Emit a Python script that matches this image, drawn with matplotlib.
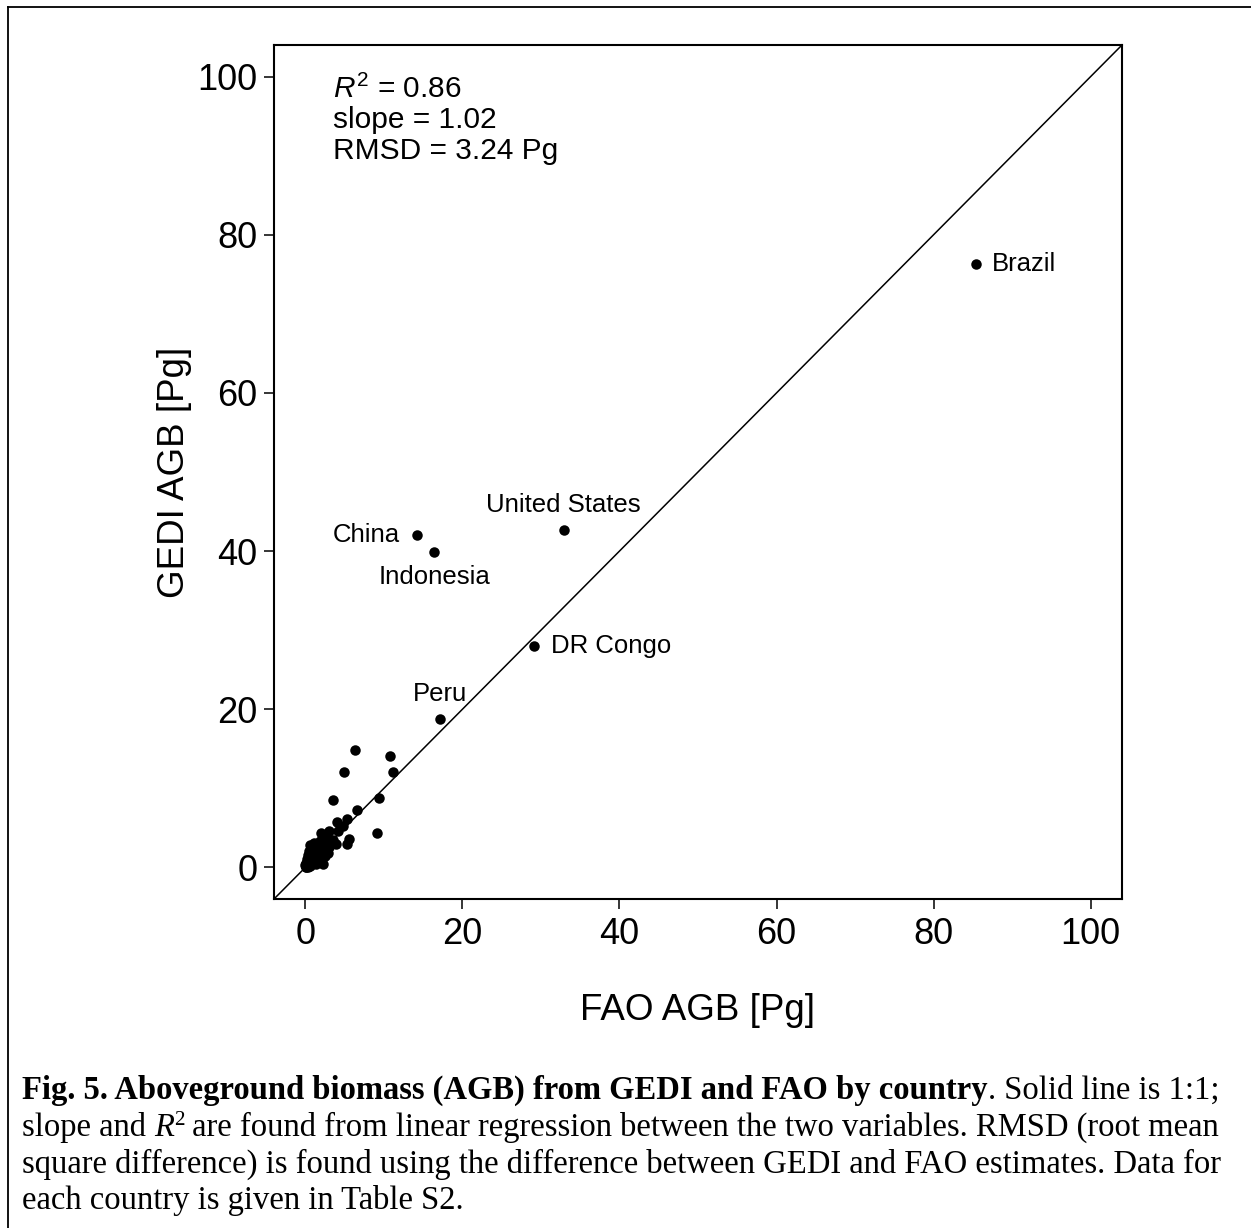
import numpy as np
import matplotlib
matplotlib.use("Agg")
import matplotlib.pyplot as plt
from matplotlib.lines import Line2D

plt.rcParams['font.family'] = ['Liberation Sans', 'DejaVu Sans']
plt.rcParams['mathtext.fontset'] = 'custom'
plt.rcParams['mathtext.rm'] = 'Liberation Sans'
plt.rcParams['mathtext.it'] = 'Liberation Sans:italic'

# 라벨 붙은 국가 (FAO, GEDI)
countries = ["Brazil", "United States", "China", "Indonesia", "DR Congo", "Peru"]
fao_named = [85.35, 32.9, 14.18, 16.43, 29.17, 17.16]
gedi_named = [76.3, 42.7, 41.97, 39.86, 27.94, 18.8]

# 나머지 국가들
fao_other = [0.1, 0.2, 0.3, 0.1, 0.4, 0.2, 0.5, 0.3, 0.6, 0.8, 0.7, 0.4, 0.9, 1.0, 1.2,
             1.1, 1.4, 1.5, 1.3, 1.8, 1.6, 2.0, 2.1, 2.3, 2.2, 2.5, 2.6, 2.85, 3.06, 3.0,
             3.5, 3.9, 4.04, 4.2, 5.31, 4.8, 5.5, 5.3, 6.62, 3.48, 9.43, 9.08, 4.93, 6.28,
             10.8, 11.2, 0.05, 0.0, 1.9, 0.6, 1.7, 2.7]
gedi_other = [0.1, 0.3, 0.1, 0.6, 0.5, 1.0, 1.2, 1.6, 0.2, 0.6, 1.0, 2.1, 1.5, 2.4, 0.9,
              3.1, 1.7, 2.6, 0.4, 3.3, 1.2, 4.4, 2.0, 2.9, 0.4, 1.5, 3.6, 1.86, 4.59, 2.6,
              3.4, 2.9, 5.73, 4.6, 6.15, 5.2, 3.6, 2.9, 7.29, 8.56, 8.72, 4.39, 12.1, 14.9,
              14.07, 12.1, 0.0, 0.3, 0.7, 2.8, 2.2, 4.0]

# 라벨 위치 (점 기준 오프셋, 포인트 단위)
label_offsets = {
    "Brazil": (12, 0, 'left', 'center'),
    "United States": (0, 18, 'center', 'center'),
    "China": (-12, 0, 'right', 'center'),
    "Indonesia": (0, -18, 'center', 'center'),
    "DR Congo": (12, 0, 'left', 'center'),
    "Peru": (0, 18, 'center', 'center'),
}

W, H = 1251, 1228
fig = plt.figure(figsize=(W / 100, H / 100), dpi=100)
ax = fig.add_axes([274 / W, 1 - 899 / H, (1122 - 274) / W, (899 - 45) / H])

ax.set_xlim(-4, 104)
ax.set_ylim(-4, 104)

# 1:1 선
ax.plot([-4, 104], [-4, 104], color='black', lw=1.1, zorder=1)

ax.scatter(fao_other, gedi_other, s=57, color='black', zorder=3, linewidths=0)
ax.scatter(fao_named, gedi_named, s=57, color='black', zorder=3, linewidths=0)

for name, xv, yv in zip(countries, fao_named, gedi_named):
    dx, dy, ha, va = label_offsets[name]
    ax.annotate(name, (xv, yv), xytext=(dx, dy), textcoords='offset points',
                ha=ha, va=va, fontsize=18.5)

ax.set_xticks([0, 20, 40, 60, 80, 100])
ax.set_yticks([0, 20, 40, 60, 80, 100])
ax.tick_params(labelsize=26, length=7, width=1.1, direction='out')
ax.tick_params(axis='x', pad=6)
ax.tick_params(axis='y', pad=5)
for sp in ax.spines.values():
    sp.set_linewidth(1.5)

# 통계값
stats = [r"$\mathit{R}^2$ = 0.86", "slope = 1.02", "RMSD = 3.24 Pg"]
for s, yb in zip(stats, [98, 128, 159]):
    fig.text(333 / W, 1 - yb / H, s, fontsize=21.5, ha='left', va='baseline')

fig.text(698 / W, 1 - 1010 / H, "FAO AGB [Pg]", fontsize=26.5, ha='center', va='center')
fig.text(175 / W, 1 - 472 / H, "GEDI AGB [Pg]", fontsize=26.5, ha='center', va='center',
         rotation=90)

# 바깥 테두리
fig.add_artist(Line2D([8 / W, 1], [1 - 7 / H, 1 - 7 / H], color='black', lw=1.3,
                      transform=fig.transFigure))
fig.add_artist(Line2D([8 / W, 8 / W], [1 - 7 / H, 0], color='black', lw=1.3,
                      transform=fig.transFigure))

# 캡션 (조각별로 이어 붙이기)
renderer = fig.canvas.get_renderer()
cap_fs = 23.5
serif = ['Liberation Serif', 'DejaVu Serif']
cap_left = 22

# (텍스트, 굵기, 스타일, 위첨자 여부)
line1 = [("Fig. 5. Aboveground biomass (AGB) from GEDI and FAO by country", 'bold', 'normal', False),
         (". Solid line is 1:1;", 'normal', 'normal', False)]
line2 = [("slope and ", 'normal', 'normal', False),
         ("R", 'normal', 'italic', False),
         ("2", 'normal', 'normal', True),
         (" are found from linear regression between the two variables. RMSD (root mean",
          'normal', 'normal', False)]
line3 = [("square difference) is found using the difference between GEDI and FAO estimates. Data for",
          'normal', 'normal', False)]
line4 = [("each country is given in Table S2.", 'normal', 'normal', False)]

cap_lines = [line1, line2, line3, line4]
baselines = [1099, 1136, 1173, 1209]

for line, yb in zip(cap_lines, baselines):
    x = cap_left
    for txt, weight, style, sup in line:
        fs = cap_fs * 0.65 if sup else cap_fs
        yy = yb - 11 if sup else yb
        t = fig.text(x / W, 1 - yy / H, txt, fontsize=fs, family=serif, weight=weight,
                     style=style, ha='left', va='baseline')
        x += t.get_window_extent(renderer).width

fig.savefig("out.png", dpi=100)
